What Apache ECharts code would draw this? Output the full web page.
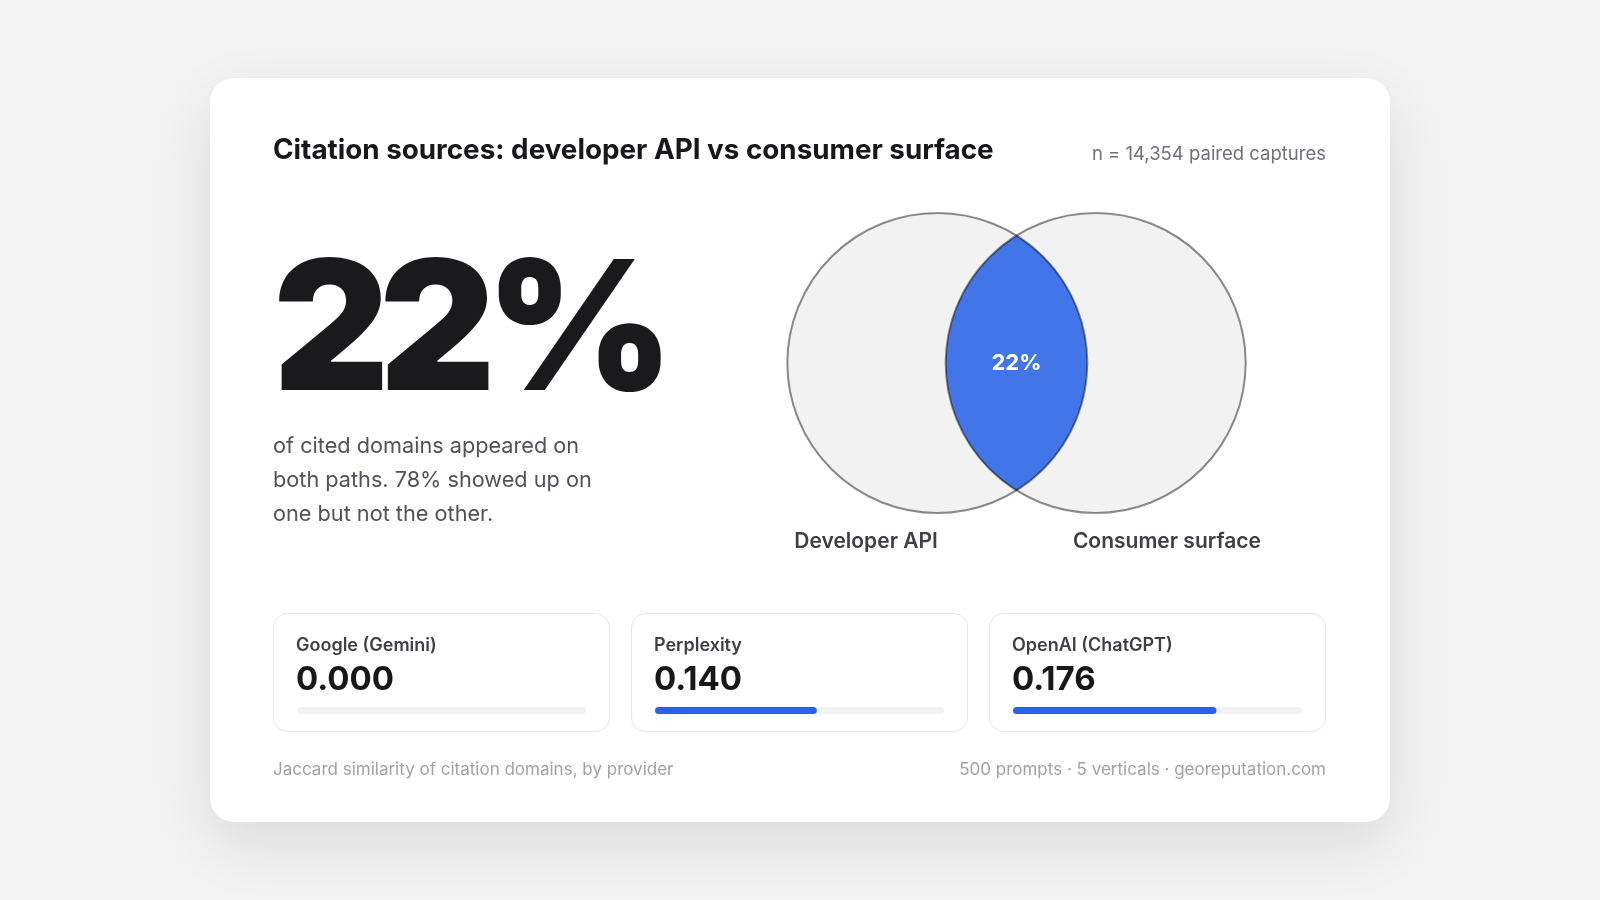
<!DOCTYPE html>
<html lang="en">
<head>
    <meta charset="utf-8">
    <title>Citation sources: developer API vs consumer surface</title>
    <style>
        html, body { margin: 0; padding: 0; background: #f3f3f4; }
        #main { width: 1600px; height: 900px; }
    </style>
</head>
<body>
<div id="main"></div>
<script src="https://cdn.jsdelivr.net/npm/echarts@6/dist/echarts.min.js"></script>
<script>
    // data
    var sets = ['Developer API', 'Consumer surface'];
    var overlapShare = 0.22;
    var providers = ['Google (Gemini)', 'Perplexity', 'OpenAI (ChatGPT)'];
    var jaccard = [0.000, 0.140, 0.176];
    var barMax = 0.25;
    var captures = '14,354';

    var FONT = 'Inter, "Noto Sans", sans-serif';

    // distance between circle centres (r = 1) so that lens / union == overlapShare
    function lensArea(d) {
        return 2 * Math.acos(d / 2) - (d / 2) * Math.sqrt(4 - d * d);
    }
    var lo = 0, hi = 2;
    for (var it = 0; it < 60; it++) {
        var mid = (lo + hi) / 2;
        var a = lensArea(mid);
        var ratio = a / (2 * Math.PI - a);
        if (ratio > overlapShare) lo = mid; else hi = mid;
    }
    var dist = (lo + hi) / 2;

    var unitPx = 150;
    var vennW = (dist + 2) * unitPx;
    var vennCx = 1016.5;

    var circleData = [[-dist / 2, 0], [dist / 2, 0]];

    var grids = [{ left: vennCx - vennW / 2, top: 213, width: vennW, height: 2 * unitPx }];
    var xAxes = [{ gridIndex: 0, type: 'value', min: -(dist / 2 + 1), max: dist / 2 + 1, show: false }];
    var yAxes = [{ gridIndex: 0, type: 'value', min: -1, max: 1, show: false }];
    var series = [];

    // venn fills
    series.push({
        type: 'custom', coordinateSystem: 'cartesian2d', xAxisIndex: 0, yAxisIndex: 0,
        data: circleData, clip: false, z: 2,
        renderItem: function (params, api) {
            var c = api.coord([api.value(0), api.value(1)]);
            var r = api.size([1, 1])[0];
            return { type: 'circle', shape: { cx: c[0], cy: c[1], r: r }, style: { fill: '#f2f2f2' } };
        }
    });
    // overlap lens
    series.push({
        type: 'custom', coordinateSystem: 'cartesian2d', xAxisIndex: 0, yAxisIndex: 0,
        data: [[0, 0]], clip: false, z: 3,
        renderItem: function (params, api) {
            var r = api.size([1, 1])[0];
            var h = Math.sqrt(1 - dist * dist / 4);
            var t = api.coord([0, h]);
            var b = api.coord([0, -h]);
            var c = api.coord([0, 0]);
            var p = 'M' + t[0] + ' ' + t[1] +
                ' A' + r + ' ' + r + ' 0 0 0 ' + b[0] + ' ' + b[1] +
                ' A' + r + ' ' + r + ' 0 0 0 ' + t[0] + ' ' + t[1] + ' Z';
            return {
                type: 'group',
                children: [
                    { type: 'path', shape: { pathData: p }, style: { fill: '#4276e8' } },
                    {
                        type: 'text', x: c[0], y: c[1],
                        style: {
                            text: Math.round(overlapShare * 100) + '%', fill: '#ffffff',
                            font: '700 22px ' + FONT, align: 'center', verticalAlign: 'middle'
                        }
                    }
                ]
            };
        }
    });
    // venn outlines + set names
    series.push({
        type: 'custom', coordinateSystem: 'cartesian2d', xAxisIndex: 0, yAxisIndex: 0,
        data: circleData, clip: false, z: 4,
        renderItem: function (params, api) {
            var c = api.coord([api.value(0), api.value(1)]);
            var r = api.size([1, 1])[0];
            var side = params.dataIndex === 0 ? -1 : 1;
            var lp = api.coord([api.value(0) + side * 0.475, -1.19]);
            return {
                type: 'group',
                children: [
                    {
                        type: 'circle', shape: { cx: c[0], cy: c[1], r: r },
                        style: { fill: 'none', stroke: 'rgba(0,0,0,0.45)', lineWidth: 2 }
                    },
                    {
                        type: 'text', x: lp[0], y: lp[1],
                        style: {
                            text: sets[params.dataIndex], fill: '#3f3f46',
                            font: '600 21px ' + FONT, align: 'center', verticalAlign: 'middle'
                        }
                    }
                ]
            };
        }
    });

    var graphics = [
        {
            type: 'rect', z: -10,
            shape: { x: 210, y: 78, width: 1180, height: 744, r: 24 },
            style: { fill: '#ffffff', shadowBlur: 60, shadowOffsetY: 22, shadowColor: 'rgba(0,0,0,0.10)' }
        },
        {
            type: 'text', x: 273, y: 151,
            style: { text: 'Citation sources: ' + 'developer API vs consumer surface', fill: '#18181b',
                font: '700 27.8px ' + FONT, verticalAlign: 'middle' }
        },
        {
            type: 'text', x: 1326, y: 154,
            style: { text: 'n = ' + captures + ' paired captures', fill: '#71717a',
                font: '400 18.5px ' + FONT, align: 'right', verticalAlign: 'middle' }
        },
        {
            type: 'text', x: 273, y: 429,
            style: {
                text: 'of cited domains appeared on\nboth paths. ' + Math.round((1 - overlapShare) * 100) +
                    '% showed up on\none but not the other.',
                fill: '#52525b', font: '400 21.7px ' + FONT, lineHeight: 34, verticalAlign: 'top'
            }
        },
        {
            type: 'text', x: 273, y: 770,
            style: { text: 'Jaccard similarity of citation domains, by provider', fill: '#a1a1aa',
                font: '400 17px ' + FONT, verticalAlign: 'middle' }
        },
        {
            type: 'text', x: 1326, y: 770,
            style: { text: '500 prompts · 5 verticals · georeputation.com', fill: '#a1a1aa',
                font: '400 17px ' + FONT, align: 'right', verticalAlign: 'middle' }
        }
    ];

    // headline number, set glyph by glyph for tight tracking
    var bigFont = '900 180px ' + FONT;
    var bigText = Math.round(overlapShare * 100) + '%';
    var measure = document.createElement('canvas').getContext('2d');
    measure.font = bigFont;
    var bx = 273;
    for (var k = 0; k < bigText.length; k++) {
        graphics.push({
            type: 'text', x: bx, y: 336,
            style: { text: bigText[k], fill: '#1a1a1c', font: bigFont, verticalAlign: 'middle' }
        });
        bx += measure.measureText(bigText[k]).width - 10;
    }

    providers.forEach(function (name, i) {
        var x0 = 273 + i * 358;
        graphics.push({
            type: 'rect', z: -5,
            shape: { x: x0 + 0.5, y: 613.5, width: 336, height: 118, r: 14 },
            style: { fill: '#ffffff', stroke: '#e7e7ea', lineWidth: 1 }
        });
        graphics.push({
            type: 'text', x: x0 + 23, y: 646,
            style: { text: name, fill: '#3f3f46', font: '600 18px ' + FONT, verticalAlign: 'middle' }
        });
        graphics.push({
            type: 'text', x: x0 + 23, y: 680,
            style: { text: jaccard[i].toFixed(3), fill: '#18181b', font: '700 33px ' + FONT, verticalAlign: 'middle' }
        });

        var gi = i + 1;
        grids.push({ left: x0 + 24, top: 707, width: 289, height: 7 });
        xAxes.push({ gridIndex: gi, type: 'value', min: 0, max: barMax, show: false });
        yAxes.push({ gridIndex: gi, type: 'category', data: [name], show: false });
        series.push({
            type: 'bar', xAxisIndex: gi, yAxisIndex: gi,
            data: [jaccard[i]], barWidth: 7,
            showBackground: true,
            backgroundStyle: { color: '#f2f2f3', borderRadius: 4 },
            itemStyle: { color: '#2563eb', borderRadius: 4 }
        });
    });

    var myChart = echarts.init(document.getElementById('main'));
    myChart.setOption({
        backgroundColor: '#f3f3f4',
        animation: false,
        grid: grids,
        xAxis: xAxes,
        yAxis: yAxes,
        graphic: graphics,
        series: series
    });
</script>
</body>
</html>
